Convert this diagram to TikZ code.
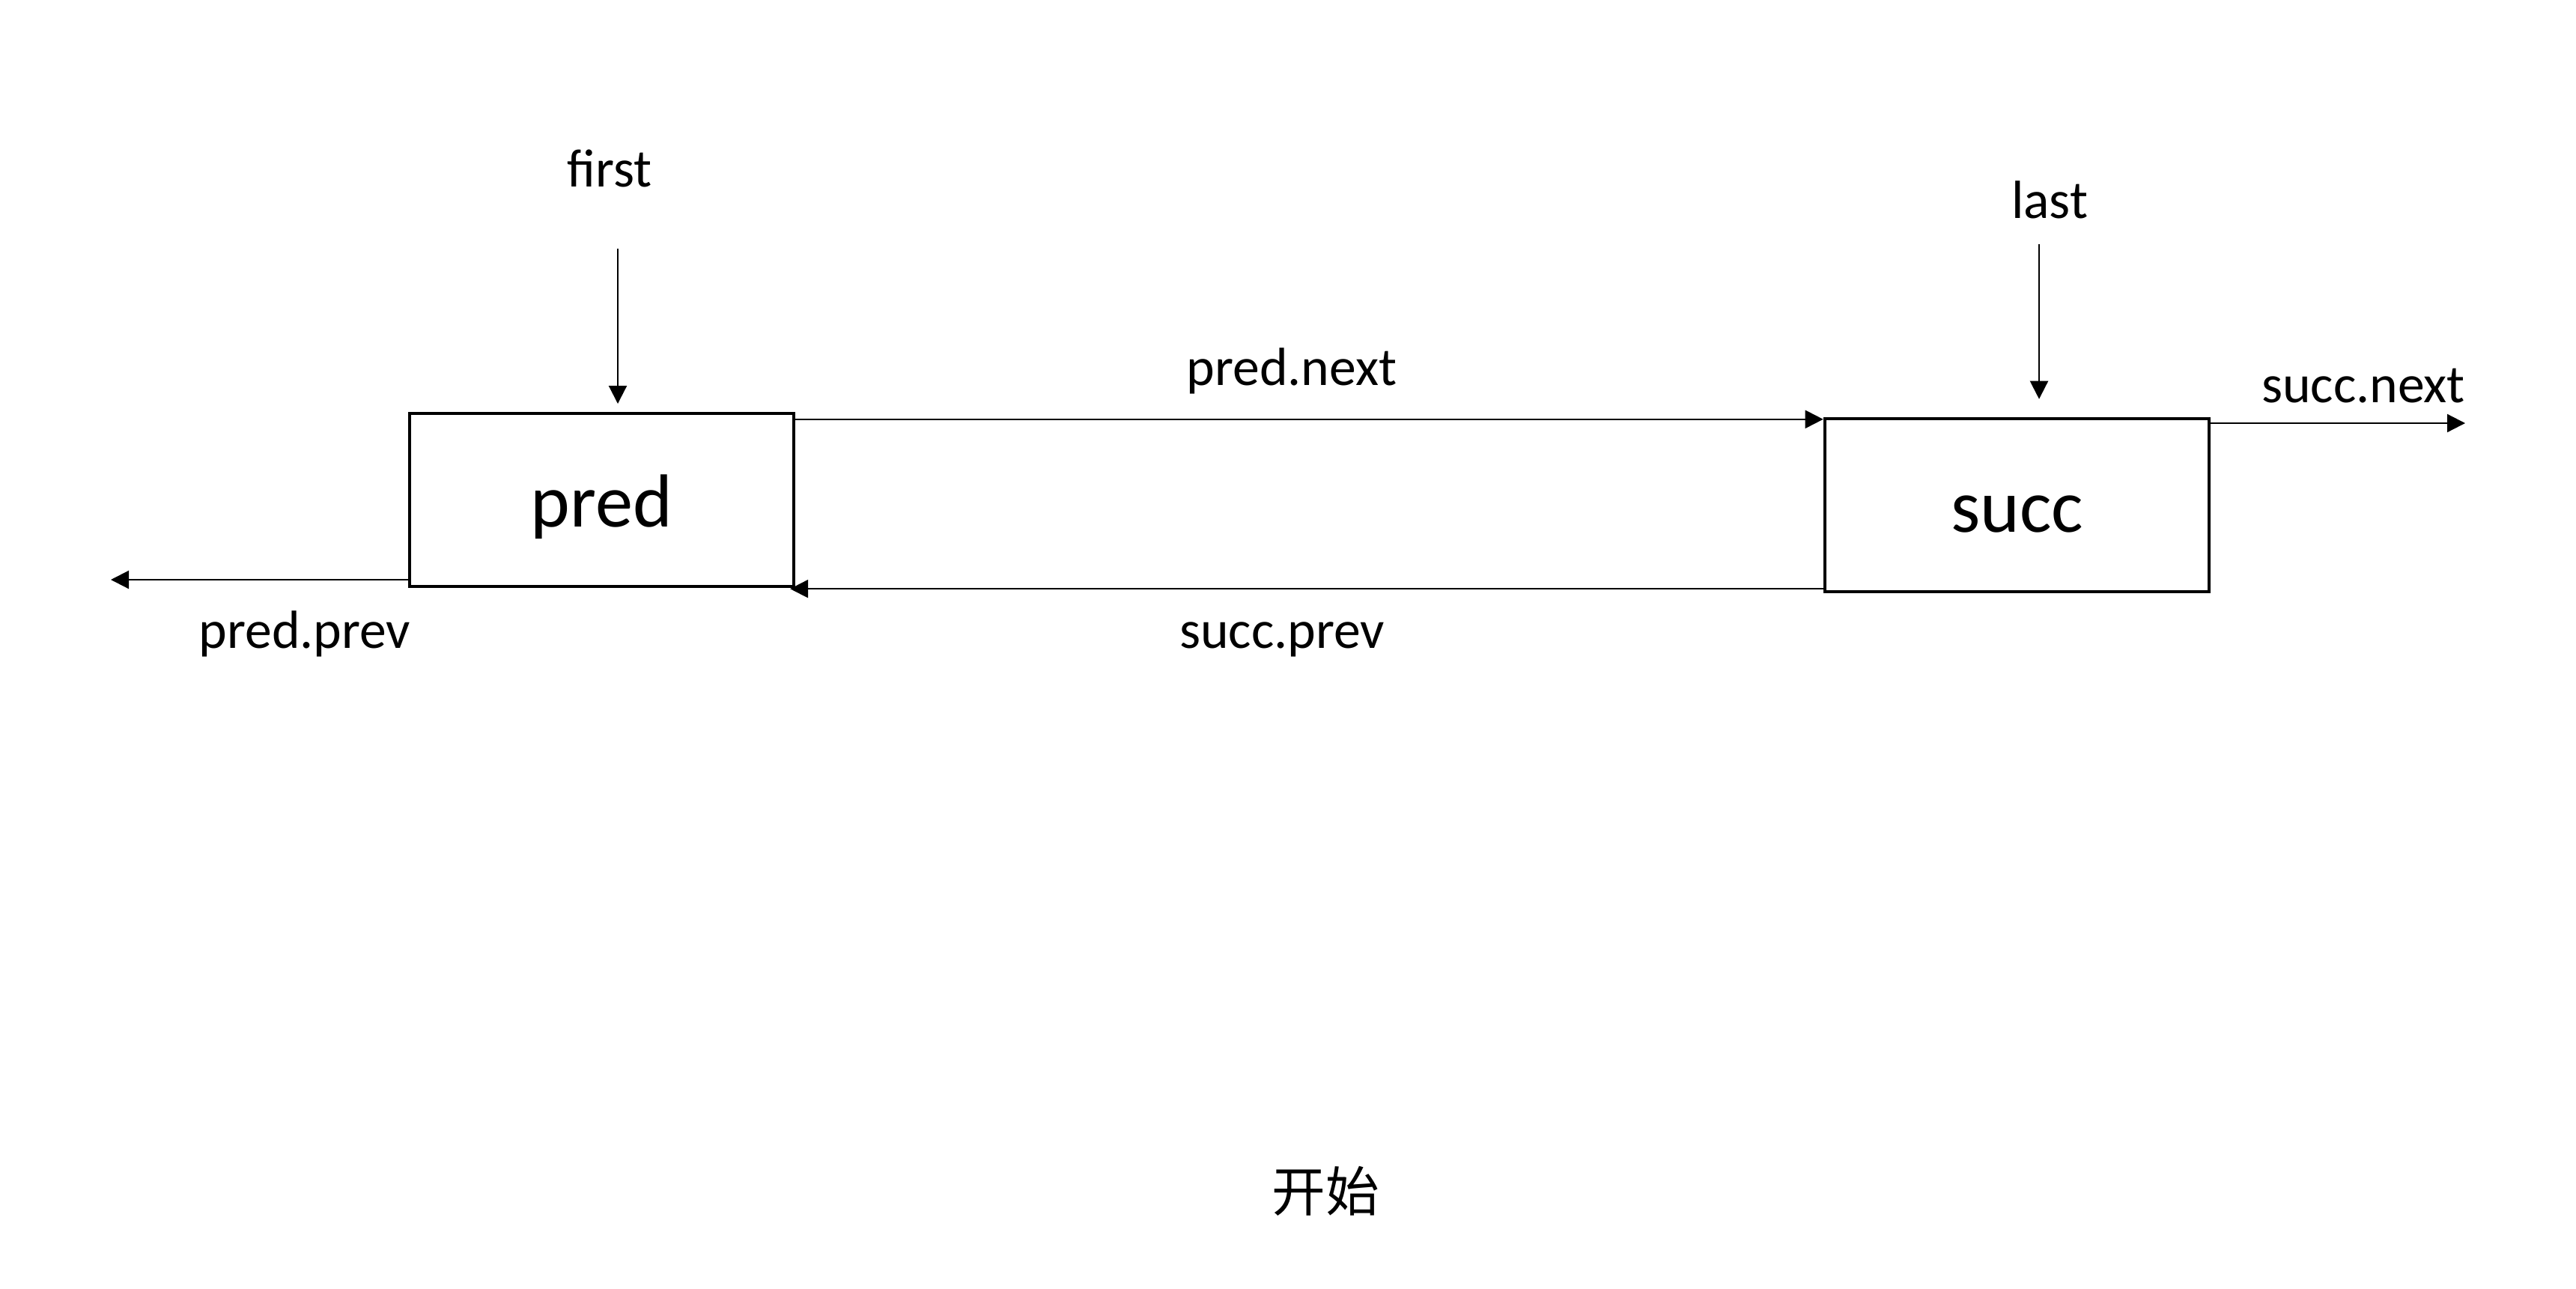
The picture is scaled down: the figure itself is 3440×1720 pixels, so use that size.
\documentclass[tikz,border=0pt]{standalone}
\usepackage{fontspec}
\setmainfont{Carlito}
\newfontfamily\cjkfont{Noto Sans CJK SC}
\usetikzlibrary{arrows.meta,calc}
\begin{document}
\begin{tikzpicture}[x=0.279pt,y=-0.279pt,
  nodebox/.style={draw, line width=1.3pt, minimum width=143.1pt, minimum height=64.4pt,
    inner sep=0pt, font=\fontsize{28}{34}\selectfont, text height=21pt, text depth=1pt},
  lbl/.style={anchor=base, inner sep=0pt, font=\fontsize{20}{24}\selectfont},
  arr/.style={line width=0.6pt, -{Triangle[length=6.7pt,width=6.7pt]}}]
\path[fill=white] (0,0) rectangle (3440,1720);
\useasboundingbox (0,0) rectangle (3440,1720);

\node[nodebox] (pred) at (803.5,667.5) {pred};
\node[nodebox] (succ) at (2693.5,674.5) {succ};

\node[lbl] (first) at (814,249) {first};
\node[lbl] (last) at (2737,291) {last};
\node[lbl] (pnl) at (1725,514) {pred.next};
\node[lbl] (snl) at (3156,537) {succ.next};
\node[lbl] (ppl) at (407,865) {pred.prev};
\node[lbl] (spl) at (1712,865) {succ.prev};
\node[lbl, font=\cjkfont\fontsize{20}{24}\selectfont] (start) at (1770,1617) {开始};

\coordinate (f1) at (825,332);
\coordinate (l1) at (2723,326);
\coordinate (sn) at (3292,565);
\coordinate (pp) at (148,774);
\coordinate (pn) at ([yshift=-2.8pt]pred.north east);
\coordinate (sp) at ([yshift=1.7pt]succ.south west);

\draw[arr, shorten >=3pt] (f1) -- (f1 |- pred.north);
\draw[arr, shorten >=6.7pt] (l1) -- (l1 |- succ.north);
\draw[arr] (pn) -- (pn -| succ.west);
\draw[arr, shorten >=-2pt] (sp) -- (sp -| pred.east);
\draw[arr] (succ.east |- sn) -- (sn);
\draw[arr] (pred.west |- pp) -- (pp);
\end{tikzpicture}
\end{document}
